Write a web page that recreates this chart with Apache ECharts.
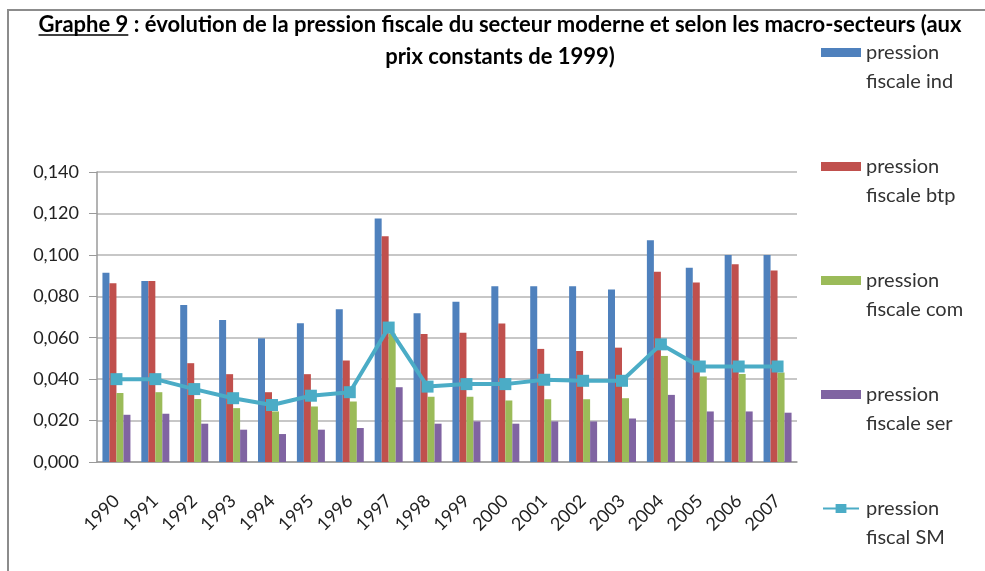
<!DOCTYPE html>
<html>
<head>
<meta charset="utf-8">
<script src="https://cdn.jsdelivr.net/npm/echarts@6/dist/echarts.min.js"></script>
<style>
  html, body { margin: 0; padding: 0; background: #fff; }
  #chart { width: 985px; height: 571px; }
</style>
</head>
<body>
<div id="chart"></div>
<script>
// années
const years = ['1990', '1991', '1992', '1993', '1994', '1995', '1996', '1997', '1998',
  '1999', '2000', '2001', '2002', '2003', '2004', '2005', '2006', '2007']

// pression fiscale par macro-secteur
const pressionInd = [0.0914, 0.0874, 0.0758, 0.0686, 0.0597, 0.0670, 0.0738, 0.1175, 0.0718,
  0.0774, 0.0849, 0.0849, 0.0849, 0.0833, 0.1071, 0.0938, 0.0999, 0.0999]
const pressionBtp = [0.0863, 0.0874, 0.0477, 0.0424, 0.0337, 0.0424, 0.0490, 0.1090, 0.0618,
  0.0624, 0.0669, 0.0546, 0.0536, 0.0552, 0.0918, 0.0867, 0.0955, 0.0925]
const pressionCom = [0.0333, 0.0337, 0.0304, 0.0260, 0.0244, 0.0268, 0.0292, 0.0620, 0.0315,
  0.0315, 0.0297, 0.0303, 0.0303, 0.0308, 0.0512, 0.0413, 0.0425, 0.0432]
const pressionSer = [0.0228, 0.0233, 0.0185, 0.0156, 0.0135, 0.0156, 0.0164, 0.0361, 0.0185,
  0.0196, 0.0185, 0.0196, 0.0196, 0.0210, 0.0324, 0.0244, 0.0244, 0.0238]
// secteur moderne
const pressionSM = [0.0400, 0.0400, 0.0352, 0.0308, 0.0275, 0.0320, 0.0337, 0.0649, 0.0364,
  0.0376, 0.0376, 0.0397, 0.0392, 0.0392, 0.0568, 0.0461, 0.0461, 0.0461]

const FONT = 'Lato'
const TITLE_SIZE = 22
const TITLE_1 = 'Graphe 9 : évolution de la pression fiscale du secteur moderne et selon les macro-secteurs (aux'
const TITLE_2 = 'prix constants de 1999)'
const TITLE_X = 500

// largeur du texte pour placer le soulignement de "Graphe 9"
function textWidth(txt) {
  const ctx = document.createElement('canvas').getContext('2d')
  ctx.font = 'bold ' + TITLE_SIZE + 'px ' + FONT
  return ctx.measureText(txt).width
}
const underlineX = TITLE_X - textWidth(TITLE_1) / 2
const underlineW = textWidth('Graphe 9')

const chart = echarts.init(document.getElementById('chart'))

function barSerie(name, data, color) {
  return {
    name,
    type: 'bar',
    data,
    barWidth: 7,
    barGap: '0%',
    itemStyle: { color },
    emphasis: { disabled: true }
  }
}

const titleStyle = {
  fontFamily: FONT,
  fontWeight: 'bold',
  fontSize: TITLE_SIZE,
  color: '#000'
}

chart.setOption({
  backgroundColor: '#fff',
  animation: false,
  textStyle: { fontFamily: FONT },
  graphic: [
    {
      type: 'rect',
      shape: { x: 8, y: 10, width: 1000, height: 600 },
      style: { fill: 'none', stroke: '#8c8c8c', lineWidth: 2 },
      silent: true
    },
    {
      type: 'text',
      x: TITLE_X,
      y: 25,
      style: Object.assign({ text: TITLE_1, align: 'center', verticalAlign: 'middle' }, titleStyle),
      silent: true
    },
    {
      type: 'text',
      x: TITLE_X,
      y: 57,
      style: Object.assign({ text: TITLE_2, align: 'center', verticalAlign: 'middle' }, titleStyle),
      silent: true
    },
    {
      type: 'line',
      shape: { x1: underlineX, y1: 35, x2: underlineX + underlineW, y2: 35 },
      style: { stroke: '#000', lineWidth: 1.5 },
      silent: true
    }
  ],
  legend: {
    orient: 'vertical',
    left: 816,
    top: 4,
    itemWidth: 40,
    itemHeight: 9,
    itemGap: 27,
    icon: 'rect',
    formatter: name => {
      const parts = name.split(' ')
      return ' \n' + parts[0] + '\n' + parts.slice(1).join(' ')
    },
    textStyle: { fontFamily: FONT, fontSize: 20, lineHeight: 29, color: '#333' },
    data: [
      { name: 'pression fiscale ind' },
      { name: 'pression fiscale btp' },
      { name: 'pression fiscale com' },
      { name: 'pression fiscale ser' },
      { name: 'pression fiscal SM', icon: 'path://M0,4H14V0H26V4H40V6H26V10H14V6H0Z' }
    ]
  },
  grid: { left: 97, top: 172, width: 700, height: 290 },
  xAxis: {
    type: 'category',
    data: years,
    axisLine: { lineStyle: { color: '#9a9a9a', width: 1.5 } },
    axisTick: { length: 6, lineStyle: { color: '#9a9a9a' } },
    axisLabel: { rotate: 45, fontFamily: FONT, fontSize: 18, color: '#222', margin: 36 }
  },
  yAxis: {
    type: 'value',
    min: 0,
    max: 0.14,
    interval: 0.02,
    axisLine: { show: true, lineStyle: { color: '#9a9a9a', width: 1.5 } },
    axisTick: { show: true, length: 8, lineStyle: { color: '#9a9a9a' } },
    splitLine: { lineStyle: { color: '#b4b4b4', width: 1.5 } },
    axisLabel: {
      fontFamily: FONT,
      fontSize: 18,
      color: '#222',
      margin: 18,
      formatter: v => v.toFixed(3).replace('.', ',')
    }
  },
  series: [
    barSerie('pression fiscale ind', pressionInd, '#4F81BD'),
    barSerie('pression fiscale btp', pressionBtp, '#C0504D'),
    barSerie('pression fiscale com', pressionCom, '#9BBB59'),
    barSerie('pression fiscale ser', pressionSer, '#8064A2'),
    {
      name: 'pression fiscal SM',
      type: 'line',
      data: pressionSM,
      symbol: 'rect',
      symbolSize: 12,
      z: 5,
      lineStyle: { color: '#4BACC6', width: 4 },
      itemStyle: { color: '#4BACC6' },
      emphasis: { disabled: true }
    }
  ]
})
</script>
</body>
</html>
